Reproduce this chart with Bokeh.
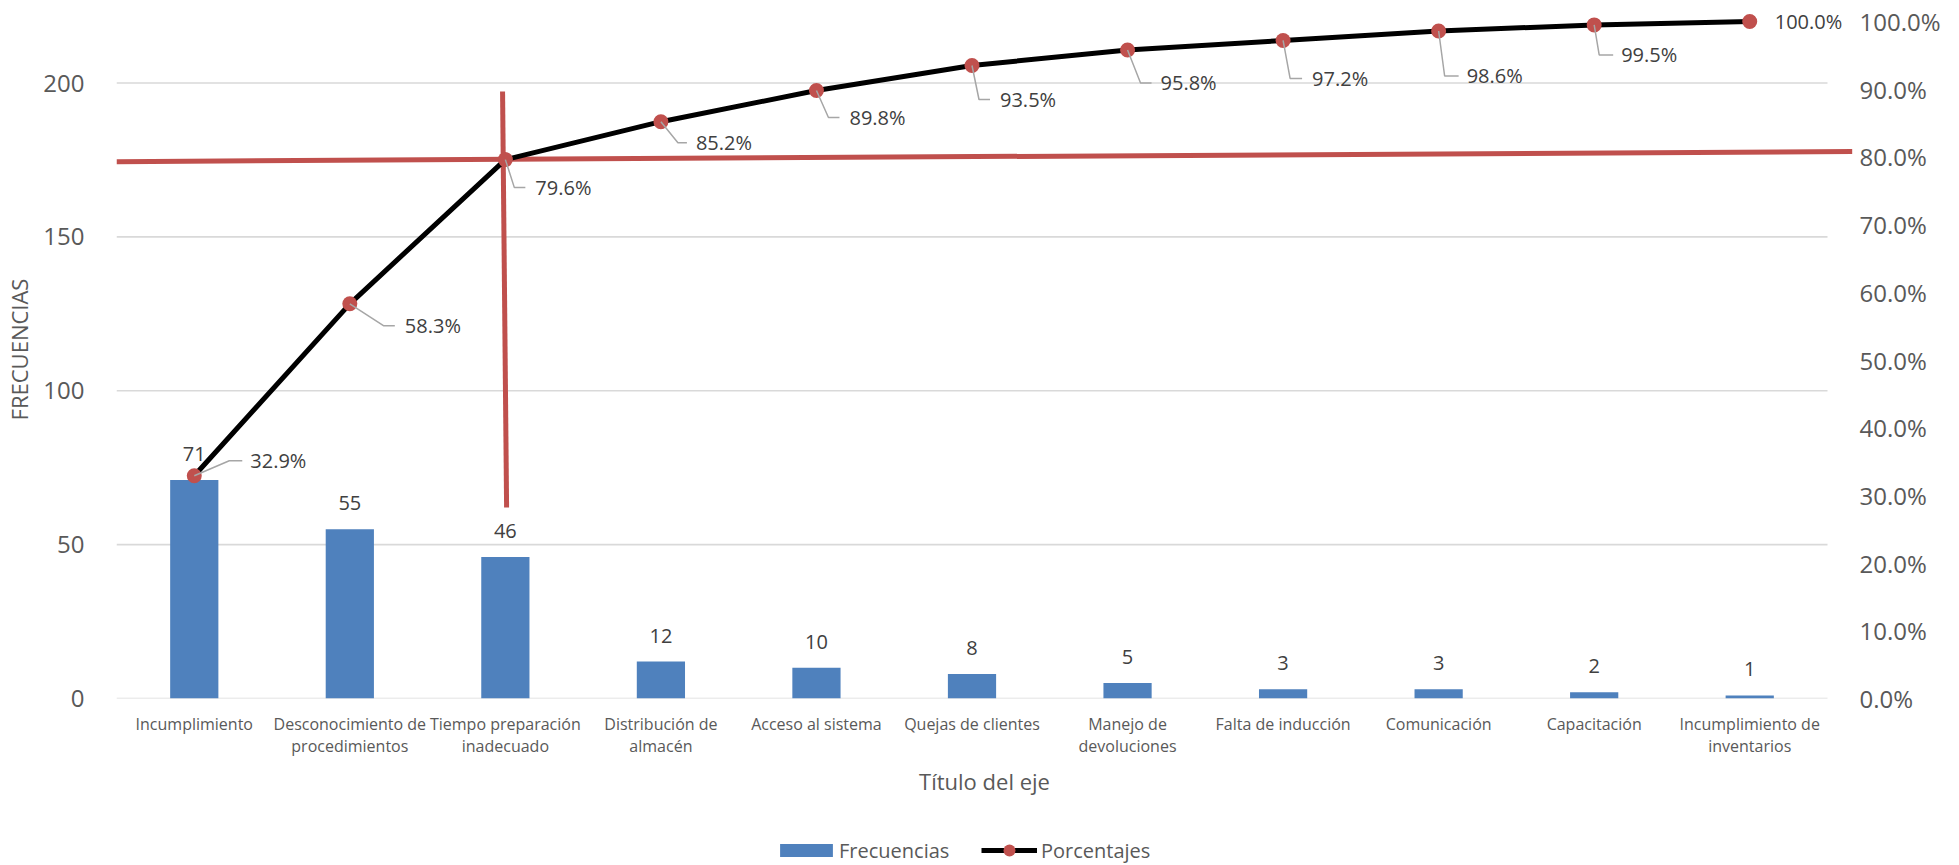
from bokeh.plotting import figure
from bokeh.layouts import column
from bokeh.models import (Range1d, LinearAxis, FixedTicker, NumeralTickFormatter,
                          Legend, LegendItem)
from bokeh.embed import file_html
from bokeh.resources import INLINE
from bokeh.core.properties import value

# ---------------- data ----------------
categories = [
    "Incumplimiento",
    "Desconocimiento de\nprocedimientos",
    "Tiempo preparación\ninadecuado",
    "Distribución de\nalmacén",
    "Acceso al sistema",
    "Quejas de clientes",
    "Manejo de\ndevoluciones",
    "Falta de inducción",
    "Comunicación",
    "Capacitación",
    "Incumplimiento de\ninventarios",
]
frecuencias = [71, 55, 46, 12, 10, 8, 5, 3, 3, 2, 1]
porcentajes = [32.9, 58.3, 79.6, 85.2, 89.8, 93.5, 95.8, 97.2, 98.6, 99.5, 100.0]
left_ticks = [0, 50, 100, 150, 200]
right_ticks = [0.0, 0.1, 0.2, 0.3, 0.4, 0.5, 0.6, 0.7, 0.8, 0.9, 1.0]

# hand-drawn 80 % reference lines (right-axis units)
hline_x = [-0.5, 10.66]
hline_y = [0.793, 0.808]
vline_x = [1.982, 2.008]
vline_y = [0.8966, 0.282]

# data-label placement (pixels): text start dx, text dy (down), leader elbow dx, leader end dx
lab_dx = [56, 55, 30, 35, 33, 28, 33, 29, 28, 27, 25]
lab_dy = [-15, 22, 28, 21, 27, 34, 33, 38, 45, 30, 0]
elb_dx = [35, 34, 9, 17, 12, 7, 13, 7, 6, 5, None]
end_dx = [48, 45, 20, 26, 23, 18, 24, 19, 20, 19, None]

FONT = "Open Sans"
BLUE = "#4F81BD"
RED = "#C0504D"
GRID = "#D9D9D9"
TICK = "#595959"
LAB = "#404040"

W = 1959
LEG_H = 36
MAIN_H = 865 - LEG_H
BL, BT = 116, 0
PLOT_W = 1711          # width of the category area
PLOT_H = 677           # height of the 0..220 / 0..100 % area
EXTRA_R = 25           # frame extends a bit past the category area
FB = 698               # frame bottom (px from top)
BB = MAIN_H - FB
BR = W - BL - PLOT_W - EXTRA_R
PX_X = PLOT_W / 11.0
PX_Y = PLOT_H / 1.0

n = len(categories)
idx = list(range(n))
pct = [v / 100.0 for v in porcentajes]

x_end = n - 0.5 + EXTRA_R / PX_X
p = figure(width=W, height=MAIN_H, x_range=Range1d(-0.5, x_end),
           y_range=Range1d(0, 220.0 * FB / PLOT_H),
           output_backend="svg", toolbar_location=None,
           min_border_left=BL, min_border_right=BR, min_border_top=BT, min_border_bottom=BB)
p.extra_y_ranges = {"pct": Range1d(0, 1.0 * FB / PLOT_H)}
p.outline_line_color = None
p.background_fill_color = "white"
p.border_fill_color = "white"
p.xgrid.grid_line_color = None
p.ygrid.grid_line_color = None

# horizontal gridlines over the category area only
p.segment(x0=[-0.5] * len(left_ticks), x1=[n - 0.5] * len(left_ticks),
          y0=left_ticks, y1=left_ticks, line_color=GRID, line_width=1.6)

# axes
p.yaxis.ticker = FixedTicker(ticks=left_ticks)
p.xaxis.ticker = FixedTicker(ticks=idx)
p.xaxis.major_label_overrides = {i: c for i, c in zip(idx, categories)}

for ax in (p.xaxis[0], p.yaxis[0]):
    ax.axis_line_color = None
    ax.major_tick_line_color = None
    ax.minor_tick_line_color = None
    ax.axis_label_text_font = FONT
    ax.axis_label_text_font_style = "normal"
    ax.axis_label_text_color = TICK
    ax.major_label_text_font = FONT
    ax.major_label_text_color = TICK

p.xaxis.major_label_text_font_size = "16px"
p.xaxis.major_label_text_line_height = 1.0
p.xaxis.major_label_standoff = 8
p.xaxis.axis_label = "Título del eje"
p.xaxis.axis_label_text_font_size = "22px"
p.xaxis.axis_label_standoff = 6

p.yaxis.major_label_text_font_size = "24px"
p.yaxis.major_label_standoff = 26
p.yaxis.axis_label = "FRECUENCIAS"
p.yaxis.axis_label_text_font_size = "22px"
p.yaxis.axis_label_standoff = 6

rax = LinearAxis(y_range_name="pct", ticker=FixedTicker(ticks=right_ticks),
                 formatter=NumeralTickFormatter(format="0.0%"))
rax.axis_line_color = None
rax.major_tick_line_color = None
rax.minor_tick_line_color = None
rax.major_label_text_font = FONT
rax.major_label_text_font_size = "24px"
rax.major_label_text_color = TICK
rax.major_label_standoff = 1
p.add_layout(rax, "right")

# bars
bars = p.vbar(x=idx, top=frecuencias, width=0.31, fill_color=BLUE, line_color=None)
p.text(x=idx, y=frecuencias, text=[str(v) for v in frecuencias],
       text_font=value(FONT), text_font_size="20px", text_color=LAB,
       text_align="center", text_baseline="middle", y_offset=-26)

# reference lines
p.line(x=hline_x, y=hline_y, y_range_name="pct", line_color=RED, line_width=5)
p.line(x=vline_x, y=vline_y, y_range_name="pct", line_color=RED, line_width=5)

# cumulative line
ln = p.line(x=idx, y=pct, y_range_name="pct", line_color="black", line_width=5)
mk = p.scatter(x=idx, y=pct, y_range_name="pct", size=15, fill_color=RED, line_color=None)

# leader lines
xs, ys = [], []
for i, (x, y) in enumerate(zip(idx, pct)):
    if elb_dx[i] is None:
        continue
    ye = y - lab_dy[i] / PX_Y
    xs.append([x, x + elb_dx[i] / PX_X, x + end_dx[i] / PX_X])
    ys.append([y, ye, ye])
p.multi_line(xs=xs, ys=ys, y_range_name="pct", line_color="#A6A6A6", line_width=1.5)

p.text(x=idx, y=pct, text=["%.1f%%" % v for v in porcentajes], y_range_name="pct",
       x_offset=lab_dx, y_offset=lab_dy,
       text_font=value(FONT), text_font_size="20px", text_color=LAB,
       text_align="left", text_baseline="middle")

# ---------------- legend strip ----------------
pl = figure(width=W, height=LEG_H, x_range=Range1d(0, 1), y_range=Range1d(0, 1),
            output_backend="svg", toolbar_location=None,
            x_axis_location=None, y_axis_location=None,
            min_border_left=BL, min_border_right=BR, min_border_top=0, min_border_bottom=0)
pl.outline_line_color = None
pl.xgrid.grid_line_color = None
pl.ygrid.grid_line_color = None
lb = pl.vbar(x=[-5], top=[-5], bottom=[-6], width=0.31, fill_color=BLUE, line_color=None)
ll = pl.line(x=[-5, -4], y=[-5, -5], line_color="black", line_width=5)
lm = pl.scatter(x=[-5], y=[-5], size=15, fill_color=RED, line_color=None)

leg_common = dict(orientation="horizontal", padding=0, margin=0, border_line_color=None,
                  background_fill_alpha=0, label_text_font=FONT, label_text_font_size="20px",
                  label_text_color=TICK, label_height=30)
# locations are measured from the frame's left edge (frame starts at x = BL)
leg1 = Legend(items=[LegendItem(label="Frecuencias", renderers=[lb])],
              location=(773 - BL, 0), glyph_width=66, glyph_height=16, label_standoff=0,
              **leg_common)
leg2 = Legend(items=[LegendItem(label="Porcentajes", renderers=[ll, lm])],
              location=(981 - BL, 0), glyph_width=56, glyph_height=30, label_standoff=4,
              **leg_common)
pl.add_layout(leg1)
pl.add_layout(leg2)

layout = column(p, pl, spacing=0)
open("out.html", "w").write(file_html(layout, INLINE))
